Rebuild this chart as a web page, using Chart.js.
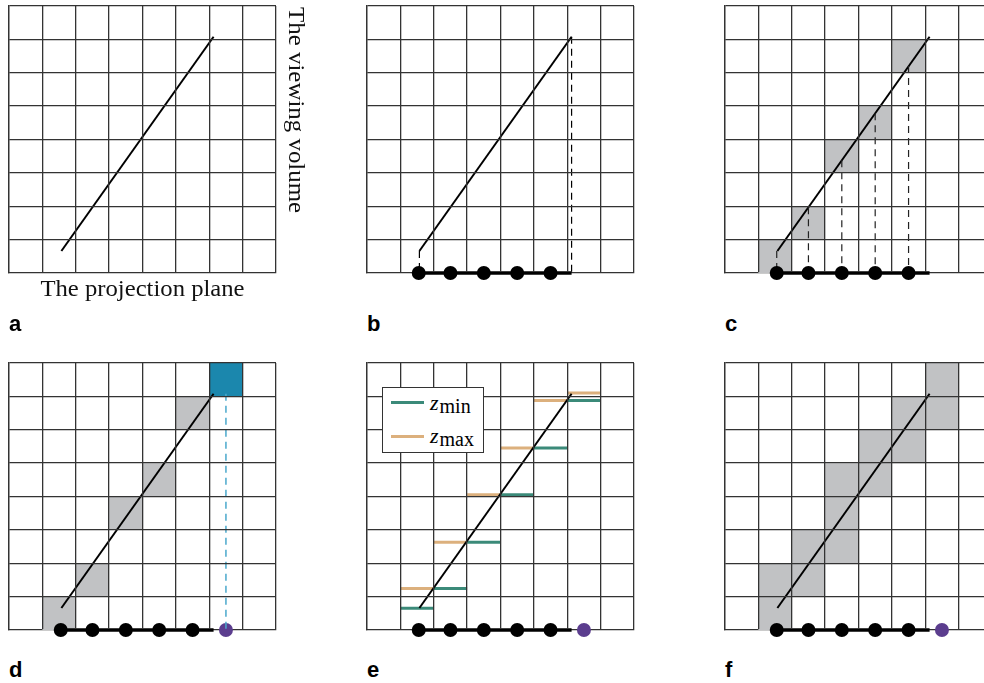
<!DOCTYPE html>
<html>
<head>
<meta charset="utf-8">
<script src="https://cdn.jsdelivr.net/npm/chart.js@4.4.1/dist/chart.umd.min.js"></script>
<style>
  html, body { margin: 0; padding: 0; background: #fff; overflow: hidden; }
  body { width: 984px; height: 683px; position: relative; }
  canvas { position: absolute; }
  .tag { position: absolute; font: bold 22px 'Liberation Sans', Arial, sans-serif; line-height: 22px; }
  .serif { position: absolute; font: 23.5px 'Liberation Serif', 'Times New Roman', serif; line-height: 23.5px; white-space: nowrap; color: #111; }
  .horiz { transform: scaleX(1.05); transform-origin: 50% 0; }
  .vert { transform: rotate(90deg) scaleX(1.06); transform-origin: 0 0; }
  .legend { position: absolute; left: 382px; top: 387px; width: 102px; height: 66px; box-sizing: border-box;
            border: 1px solid #333; background: #fff; }
  .legend .sw { position: absolute; left: 8px; width: 33px; height: 3px; }
  .legend .lab { position: absolute; left: 47px; font: italic 22px 'Liberation Serif', 'Times New Roman', serif; line-height: 22px; white-space: nowrap; }
  .legend .sub { font-style: normal; font-size: 20px; position: relative; top: 3px; margin-left: 1px; }
</style>
</head>
<body>
<canvas id="pa" width="295" height="295" style="left:-5px; top:-8px"></canvas>
<canvas id="pb" width="295" height="295" style="left:353px; top:-8px"></canvas>
<canvas id="pc" width="295" height="295" style="left:711px; top:-8px"></canvas>
<canvas id="pd" width="295" height="295" style="left:-5px; top:349px"></canvas>
<canvas id="pe" width="295" height="295" style="left:353px; top:349px"></canvas>
<canvas id="pf" width="295" height="295" style="left:711px; top:349px"></canvas>

<div class="serif horiz" style="left:9px; top:277px; width:267px; text-align:center;">The projection plane</div>
<div class="serif vert" style="left:308px; top:7px;">The viewing volume</div>

<div class="legend">
  <div class="sw" style="top:13px; background:#3b8a79;"></div>
  <div class="lab" style="top:4px;">z<span class="sub">min</span></div>
  <div class="sw" style="top:47px; background:#dcb07d;"></div>
  <div class="lab" style="top:37px;">z<span class="sub">max</span></div>
</div>

<div class="tag" style="left:9px; top:313px;">a</div>
<div class="tag" style="left:367px; top:313px;">b</div>
<div class="tag" style="left:725px; top:313px;">c</div>
<div class="tag" style="left:9px; top:659px;">d</div>
<div class="tag" style="left:367px; top:659px;">e</div>
<div class="tag" style="left:725px; top:659px;">f</div>

<script>
// the projected segment: x along the projection plane, y into the viewing volume
const lineX = [1.57, 6.13];
const lineY = [0.66, 7.08];

// sample positions on the projection plane and where their rays meet the line
const sampleX = [1.55, 2.5, 3.5, 4.5, 5.5];
const sampleHitY = [0.66, 1.97, 3.38, 4.79, 6.2];
const extraSampleX = 6.5;

// cells hit by the sample rays (panels c, d)
const hitCols = [1, 2, 3, 4, 5];
const hitRows = [0, 1, 3, 4, 6];
// the cell that was missed (panel d)
const missedCell = [6, 7];

// depth range of the line inside each column (panel e)
const zCols = [1, 2, 3, 4, 5, 6];
const zMin = [0.65, 1.24, 2.63, 4.05, 5.45, 6.88];
const zMax = [1.24, 2.63, 4.05, 5.45, 6.88, 7.10];

const GRID = '#333333';
const GRAY = '#c1c2c4';
const BLUE = '#1b87ad';
const PURPLE = '#5b3d8e';
const TEAL = '#3b8a79';
const TAN = '#dcb07d';
const CYAN = '#4aa9cc';
const PAD = 14;

function axis(isY) {
    return {
        type: 'linear', min: 0, max: 8,
        ticks: { display: false, stepSize: 1 },
        grid: {
            // bottom edge is left to the border so dots sit over it
            color: isY ? (c => (c.tick && c.tick.value === 0) ? 'rgba(0,0,0,0)' : GRID) : GRID,
            lineWidth: 1.3, drawTicks: false, z: 1
        },
        border: { display: true, color: GRID, width: 1.3 }
    };
}

function makePanel(id, datasets) {
    const chart = new Chart(document.getElementById(id), {
        type: 'line',
        data: { datasets: datasets },
        options: {
            responsive: false,
            animation: false,
            events: [],
            layout: { padding: PAD },
            plugins: { legend: { display: false }, tooltip: { enabled: false } },
            scales: { x: axis(false), y: axis(true) }
        }
    });
    // border position is only known after the grid has been laid out once
    chart.draw();
    return chart;
}

function seg(x0, y0, x1, y1, opts) {
    return Object.assign({
        data: [{ x: x0, y: y0 }, { x: x1, y: y1 }],
        borderColor: '#000', borderWidth: 2, pointRadius: 0,
        fill: false, tension: 0, clip: false, order: 10
    }, opts || {});
}

function cell(col, row, h, color) {
    return {
        data: [{ x: col, y: row }, { x: col + 1, y: row }, { x: col + 1, y: row + h },
               { x: col, y: row + h }, { x: col, y: row }],
        borderWidth: 0, borderColor: 'rgba(0,0,0,0)', backgroundColor: color,
        fill: 'shape', pointRadius: 0, tension: 0, order: 30
    };
}

function dots(xs, color, order) {
    return {
        data: xs.map(x => ({ x: x, y: 0 })),
        showLine: false, pointRadius: 7, pointBackgroundColor: color,
        pointBorderWidth: 0, clip: false, order: order
    };
}

const mainLine = () => seg(lineX[0], lineY[0], lineX[1], lineY[1]);
const baseBar = () => seg(sampleX[0], 0, lineX[1], 0, { borderWidth: 3.5, order: 8 });
const dash = [7, 5];

// a
makePanel('pa', [mainLine()]);

// b
makePanel('pb', [
    mainLine(),
    seg(lineX[1], lineY[1], lineX[1], 0, { borderWidth: 1.2, borderDash: dash, order: 6 }),
    seg(lineX[0], lineY[0], lineX[0], 0, { borderWidth: 1.2, borderDash: dash, order: 6 }),
    baseBar(),
    dots(sampleX, '#000', 4)
]);

// c
makePanel('pc', [
    ...hitCols.map((c, i) => cell(c, hitRows[i], 1, GRAY)),
    mainLine(),
    ...sampleX.map((x, i) => seg(x, sampleHitY[i], x, 0, { borderWidth: 1.2, borderColor: '#222', borderDash: dash, order: 6 })),
    baseBar(),
    dots(sampleX, '#000', 4)
]);

// d
makePanel('pd', [
    ...hitCols.map((c, i) => cell(c, hitRows[i], 1, GRAY)),
    cell(missedCell[0], missedCell[1], 1, BLUE),
    mainLine(),
    seg(extraSampleX, lineY[1], extraSampleX, 0, { borderWidth: 1.5, borderColor: CYAN, borderDash: dash, order: 2 }),
    baseBar(),
    dots(sampleX, '#000', 4),
    dots([extraSampleX], PURPLE, 3)
]);

// e
makePanel('pe', [
    ...zCols.map((c, i) => seg(c, zMin[i], c + 1, zMin[i], { borderWidth: 3, borderColor: TEAL, order: 20 })),
    ...zCols.map((c, i) => seg(c, zMax[i], c + 1, zMax[i], { borderWidth: 3, borderColor: TAN, order: 21 })),
    mainLine(),
    baseBar(),
    dots(sampleX, '#000', 4),
    dots([extraSampleX], PURPLE, 3)
]);

// f: every cell between zmin and zmax in each column
makePanel('pf', [
    ...zCols.map((c, i) => {
        const r0 = Math.floor(zMin[i]);
        const r1 = Math.ceil(zMax[i]);
        return cell(c, r0, r1 - r0, GRAY);
    }),
    mainLine(),
    baseBar(),
    dots(sampleX, '#000', 4),
    dots([extraSampleX], PURPLE, 3)
]);
</script>
</body>
</html>
